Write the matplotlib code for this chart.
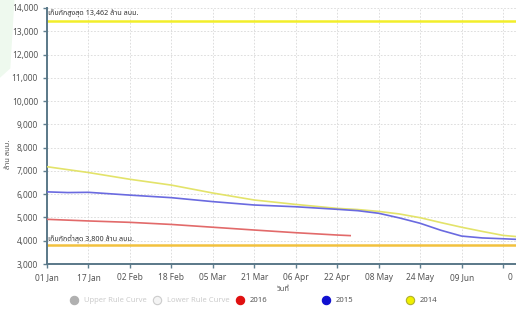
import matplotlib
matplotlib.use("Agg")
import matplotlib.pyplot as plt
from matplotlib.patches import Polygon
from matplotlib.ticker import FuncFormatter
from matplotlib.transforms import ScaledTranslation

# data (day of year from 01 Jan, million m3)
days_2014 = [0, 16, 32, 48, 64, 80, 96, 112, 120, 128, 136, 144, 152, 160, 168, 176, 181]
vol_2014 = [7180, 6930, 6640, 6390, 6050, 5750, 5560, 5390, 5340, 5260, 5150, 4990, 4780, 4580, 4400, 4230, 4180]

days_2015 = [0, 8, 16, 32, 48, 64, 80, 96, 112, 120, 128, 136, 144, 152, 160, 168, 176, 181]
vol_2015 = [6100, 6070, 6080, 5960, 5850, 5680, 5535, 5460, 5350, 5290, 5180, 4980, 4750, 4450, 4200, 4120, 4085, 4060]

days_2016 = [0, 16, 32, 48, 64, 80, 96, 112, 117]
vol_2016 = [4920, 4850, 4790, 4700, 4580, 4460, 4345, 4245, 4220]

upper_storage = 13462
lower_storage = 3800

tick_days = [0, 16, 32, 48, 64, 80, 96, 112, 128, 144, 160, 176]
tick_labels = ["01 Jan", "17 Jan", "02 Feb", "18 Feb", "05 Mar", "21 Mar",
               "06 Apr", "22 Apr", "08 May", "24 May", "09 Jun", "0"]

thai = ["Noto Sans Thai", "Loma", "Garuda", "Tlwg Typo", "DejaVu Sans"]
plt.rcParams['font.family'] = thai

fig = plt.figure(figsize=(5.16, 3.11), dpi=100)
fig.patch.set_facecolor("white")

# faint green strip at the top left edge
fig.patches.append(Polygon([(0, 1), (0.028, 1), (0.02, 0.78), (0, 0.75)],
                           closed=True, transform=fig.transFigure,
                           facecolor="#eef9ee", edgecolor="none", zorder=0))

ax = fig.add_axes([47 / 516, 0.1511, 469 / 516, 0.8232])

ax.plot(days_2014, vol_2014, color="#e3e36a", lw=1.2, zorder=3)
ax.plot(days_2015, vol_2015, color="#6a6ae0", lw=1.2, zorder=4)
ax.plot(days_2016, vol_2016, color="#e26a6a", lw=1.2, zorder=4)

ax.axhline(upper_storage, color="#f2ee2a", lw=1.8, zorder=2)
ax.axhline(lower_storage, color="#f2c13e", lw=1.8, zorder=2)
ax.text(0.5, upper_storage + 120, "เก็บกักสูงสุด 13,462 ล้าน ลบม.", fontsize=5.2,
        color="#333333", va="bottom", ha="left")
ax.text(0.5, lower_storage + 120, "เก็บกักต่ำสุด 3,800 ล้าน ลบม.", fontsize=5.2,
        color="#333333", va="bottom", ha="left")

ax.set_xlim(0, 181)
ax.set_ylim(3000, 14000)
ax.set_yticks(range(3000, 14001, 1000))
ax.yaxis.set_major_formatter(FuncFormatter(lambda v, p: f"{int(v):,}"))
ax.set_xticks(tick_days)
ax.set_xticklabels(tick_labels)
ax.tick_params(labelsize=6, colors="#555555", length=3, width=1)
ax.tick_params(axis="both", color="#5f7f8f")

# last label is cut by the right edge in the original, only "0" shows
last = ax.get_xticklabels()[-1]
last.set_transform(last.get_transform() + ScaledTranslation(0.07, 0, fig.dpi_scale_trans))

ax.grid(True, color="#d8d8d8", lw=0.6, ls=(0, (2, 2)))
ax.set_axisbelow(True)
for s in ["top", "right"]:
    ax.spines[s].set_visible(False)
for s in ["left", "bottom"]:
    ax.spines[s].set_color("#5a7888")
    ax.spines[s].set_linewidth(1.4)

ax.set_xlabel("วันที่", fontsize=5.5, color="#555555")
ax.xaxis.set_label_coords(0.503, -0.085)
ax.set_ylabel("ล้าน ลบม.", fontsize=5.5, color="#555555")
ax.yaxis.set_label_coords(-0.075, 0.43)

# legend row
legend_items = [
    (74, "Upper Rule Curve", "#b0b0b0", "#b0b0b0", "#cccccc"),
    (157, "Lower Rule Curve", "#f4f4f4", "#cccccc", "#cccccc"),
    (240, "2016", "#e01010", "#e01010", "#555555"),
    (326, "2015", "#1010d0", "#1010d0", "#555555"),
    (410, "2014", "#f0f000", "#b0b030", "#555555"),
]
for xp, lab, fc, ec, tc in legend_items:
    fig.add_artist(plt.Line2D([xp / 516], [11 / 311], marker="o", markersize=6,
                              markerfacecolor=fc, markeredgecolor=ec,
                              markeredgewidth=0.8, transform=fig.transFigure))
    fig.text((xp + 10) / 516, 11 / 311, lab, fontsize=5.5, color=tc,
             va="center", ha="left")

fig.savefig("out.png", dpi=100)
